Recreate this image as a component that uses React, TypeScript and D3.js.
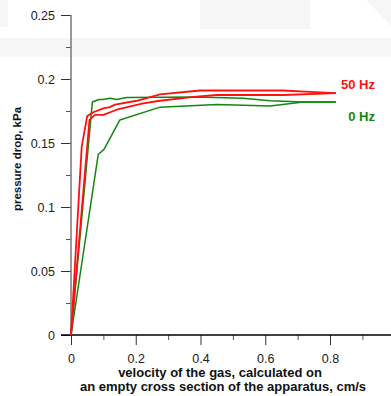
import React, { useEffect, useRef } from "react";
import * as d3 from "d3";

type Pt = [number, number];

// 50 Hz runs (red)
const red50a: Pt[] = [
  [0, 0], [0.033, 0.147], [0.05, 0.171], [0.069, 0.174], [0.1, 0.177],
  [0.12, 0.178], [0.136, 0.18], [0.203, 0.183], [0.275, 0.188], [0.398, 0.191],
  [0.553, 0.191], [0.655, 0.191], [0.738, 0.19], [0.818, 0.189],
];
const red50b: Pt[] = [
  [0, 0], [0.057, 0.168], [0.074, 0.172], [0.1, 0.172], [0.141, 0.176],
  [0.223, 0.181], [0.275, 0.183], [0.378, 0.186], [0.45, 0.1875], [0.655, 0.1875],
  [0.818, 0.189],
];
// 0 Hz runs (green)
const green0a: Pt[] = [
  [0, 0], [0.066, 0.182], [0.086, 0.184], [0.1, 0.184], [0.12, 0.185],
  [0.141, 0.184], [0.172, 0.1855], [0.388, 0.186], [0.531, 0.185], [0.615, 0.183],
  [0.717, 0.182], [0.818, 0.182],
];
const green0b: Pt[] = [
  [0, 0], [0.084, 0.141], [0.102, 0.145], [0.151, 0.168], [0.275, 0.178],
  [0.45, 0.18], [0.615, 0.179], [0.718, 0.182], [0.818, 0.182],
];

const xTicks = [0, 0.2, 0.4, 0.6, 0.8];
const xMinor = [0.1, 0.3, 0.5, 0.7, 0.9];
const yTicks = [0, 0.05, 0.1, 0.15, 0.2, 0.25];
const yTickLabels = ["0", "0.05", "0.1", "0.15", "0.2", "0.25"];
const yMinor = [0.025, 0.075, 0.125, 0.175, 0.225];

const W = 391;
const H = 396;

const App: React.FC = () => {
  const svgRef = useRef<SVGSVGElement | null>(null);

  useEffect(() => {
    const svg = d3.select(svgRef.current);
    svg.selectAll("*").remove();

    const font = "'Liberation Sans', Arial, sans-serif";

    // faint background blocks seen in the original scan
    const bg = svg.append("g").attr("fill", "#f6f6f6");
    bg.append("rect").attr("x", 0).attr("y", 0).attr("width", 8).attr("height", 27);
    bg.append("rect").attr("x", 200).attr("y", 0).attr("width", 110).attr("height", 29);
    bg.append("rect").attr("x", 0).attr("y", 38).attr("width", W).attr("height", 19);
    bg.append("polygon").attr("points", "366,0 391,0 391,26");

    const x = d3.scaleLinear().domain([0, 1]).range([71, 394.75]);
    const y = d3.scaleLinear().domain([0, 0.25]).range([335, 15]);

    // x axis
    const gx = svg.append("g").attr("transform", `translate(0,${y(0)})`);
    gx.call(
      d3.axisBottom(x).tickValues(xTicks).tickSize(10).tickPadding(9)
        .tickFormat((d) => String(d))
    );
    gx.select(".domain").remove();
    gx.selectAll("line").attr("stroke", "#333");
    gx.selectAll("text").attr("font-size", 12.5).attr("font-family", font).attr("fill", "#222");
    const gxm = svg.append("g").attr("transform", `translate(0,${y(0)})`);
    gxm.call(d3.axisBottom(x).tickValues(xMinor).tickSize(5).tickFormat(() => ""));
    gxm.select(".domain").remove();
    gxm.selectAll("line").attr("stroke", "#555");

    // y axis
    const gy = svg.append("g").attr("transform", `translate(${x(0)},0)`);
    gy.call(
      d3.axisLeft(y).tickValues(yTicks).tickSize(10).tickPadding(6)
        .tickFormat((_, i) => yTickLabels[i])
    );
    gy.select(".domain").remove();
    gy.selectAll("line").attr("stroke", "#333");
    gy.selectAll("text").attr("font-size", 12.5).attr("font-family", font).attr("fill", "#222");
    const gym = svg.append("g").attr("transform", `translate(${x(0)},0)`);
    gym.call(d3.axisLeft(y).tickValues(yMinor).tickSize(5).tickFormat(() => ""));
    gym.select(".domain").remove();
    gym.selectAll("line").attr("stroke", "#555");

    svg.append("line")
      .attr("x1", x(0)).attr("x2", x(0)).attr("y1", y(0.25)).attr("y2", y(0))
      .attr("stroke", "#777").attr("stroke-width", 1.5);
    svg.append("line")
      .attr("x1", 61).attr("x2", W).attr("y1", y(0)).attr("y2", y(0))
      .attr("stroke", "#000").attr("stroke-width", 1.5);

    const line = d3.line<Pt>().x((d) => x(d[0])).y((d) => y(d[1]));

    const series: { data: Pt[]; color: string; width: number }[] = [
      { data: green0a, color: "#118811", width: 1.5 },
      { data: green0b, color: "#118811", width: 1.5 },
      { data: red50a, color: "#ff1010", width: 1.8 },
      { data: red50b, color: "#ff1010", width: 1.8 },
    ];
    svg.append("g").selectAll("path").data(series).join("path")
      .attr("d", (s) => line(s.data))
      .attr("fill", "none")
      .attr("stroke", (s) => s.color)
      .attr("stroke-width", (s) => s.width)
      .attr("stroke-linejoin", "round");

    svg.append("text").attr("x", 375).attr("y", 89).attr("text-anchor", "end")
      .attr("font-family", font).attr("font-weight", "bold").attr("font-size", 13)
      .attr("fill", "#ff1010").text("50 Hz");
    svg.append("text").attr("x", 375).attr("y", 121).attr("text-anchor", "end")
      .attr("font-family", font).attr("font-weight", "bold").attr("font-size", 13)
      .attr("fill", "#118811").text("0 Hz");

    // axis titles
    const xt = svg.append("text").attr("text-anchor", "middle")
      .attr("font-family", font).attr("font-weight", "bold").attr("font-size", 13)
      .attr("fill", "#111");
    xt.append("tspan").attr("x", 220).attr("y", 377).text("velocity of the gas, calculated on");
    xt.append("tspan").attr("x", 223).attr("y", 391).text("an empty cross section of the apparatus, cm/s");

    svg.append("text")
      .attr("transform", "translate(21,159) rotate(-90)")
      .attr("text-anchor", "middle")
      .attr("font-family", font).attr("font-weight", "bold").attr("font-size", 11.5)
      .attr("fill", "#111").text("pressure drop, kPa");
  }, []);

  return (
    <svg
      ref={svgRef}
      width={W}
      height={H}
      style={{ position: "absolute", left: 0, top: 0, background: "#fff" }}
    />
  );
};

export default App;
